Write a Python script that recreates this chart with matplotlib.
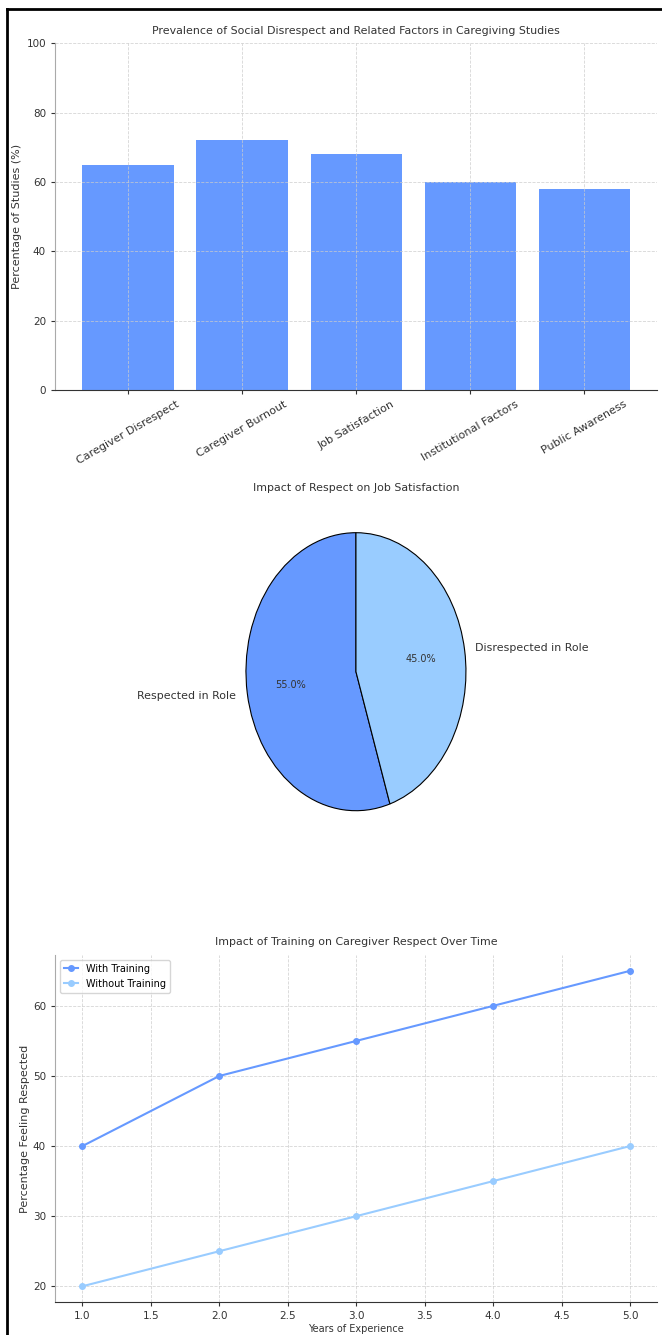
import matplotlib
matplotlib.use('Agg')
import matplotlib.pyplot as plt
from matplotlib.lines import Line2D

# bar chart data
factors = ['Caregiver Disrespect', 'Caregiver Burnout', 'Job Satisfaction',
           'Institutional Factors', 'Public Awareness']
prevalence = [65, 72, 68, 60, 58]

# pie data
respect_labels = ['Respected in Role', 'Disrespected in Role']
respect_shares = [55, 45]

# line data
years = [1, 2, 3, 4, 5]
with_training = [40, 50, 55, 60, 65]
without_training = [20, 25, 30, 35, 40]

blue = '#6699FF'
light_blue = '#99CCFF'
text_c = '#333333'
grid_kw = dict(color='#cccccc', linestyle='--', linewidth=0.6, alpha=0.8)

fig = plt.figure(figsize=(6.62, 13.35), dpi=100)

def style(ax):
    ax.spines['top'].set_visible(False)
    ax.spines['right'].set_visible(False)
    ax.spines['left'].set_color('#aaaaaa')
    ax.spines['bottom'].set_color('#333333')
    ax.tick_params(labelsize=7.5, colors=text_c, length=3)
    ax.grid(True, **grid_kw)

# bars
ax1 = fig.add_axes([0.0831, 0.7079, 0.910, 0.2596])
ax1.bar(factors, prevalence, color=blue, width=0.8)
ax1.set_ylim(0, 100)
ax1.set_ylabel('Percentage of Studies (%)', fontsize=8, color=text_c)
ax1.yaxis.set_label_coords(-0.055, 0.5)
ax1.set_title('Prevalence of Social Disrespect and Related Factors in Caregiving Studies',
              fontsize=7.9, color=text_c, pad=7)
style(ax1)
ax1.tick_params(axis='x', labelsize=8)
plt.setp(ax1.get_xticklabels(), rotation=30)

# pie
ax2 = fig.add_axes([0.330, 0.3667, 0.4154, 0.2603])
ax2.pie(respect_shares, labels=respect_labels, colors=[blue, light_blue],
        autopct='%1.1f%%', startangle=90,
        wedgeprops=dict(edgecolor='black', linewidth=0.8),
        textprops=dict(fontsize=7.9, color=text_c))
for t in ax2.texts[1::2]:
    t.set_fontsize(7)
ax2.set_aspect('auto')
ax2.set_xlim(-1.25, 1.25)
ax2.set_ylim(-1.25, 1.25)
ax2.set_title('Impact of Respect on Job Satisfaction', fontsize=7.9, color=text_c, pad=5)

# lines
ax3 = fig.add_axes([0.0831, 0.0247, 0.910, 0.2599])
ax3.plot(years, with_training, marker='o', markersize=4, color=blue, linewidth=1.5,
         label='With Training')
ax3.plot(years, without_training, marker='o', markersize=4, color=light_blue, linewidth=1.5,
         label='Without Training')
ax3.set_xlabel('Years of Experience', fontsize=7, color=text_c, labelpad=2)
ax3.set_ylabel('Percentage Feeling Respected', fontsize=8, color=text_c)
ax3.yaxis.set_label_coords(-0.042, 0.5)
ax3.set_title('Impact of Training on Caregiver Respect Over Time',
              fontsize=7.9, color=text_c, pad=7)
style(ax3)
ax3.legend(loc='upper left', fontsize=7, handlelength=1.5)

# screenshot frame
fig.add_artist(Line2D([7 / 662, 7 / 662], [0, 1 - 9 / 1335], color='black', linewidth=2))
fig.add_artist(Line2D([7 / 662, 1], [1 - 9 / 1335, 1 - 9 / 1335], color='black', linewidth=2))

fig.savefig('out.png', dpi=100)
plt.close(fig)
